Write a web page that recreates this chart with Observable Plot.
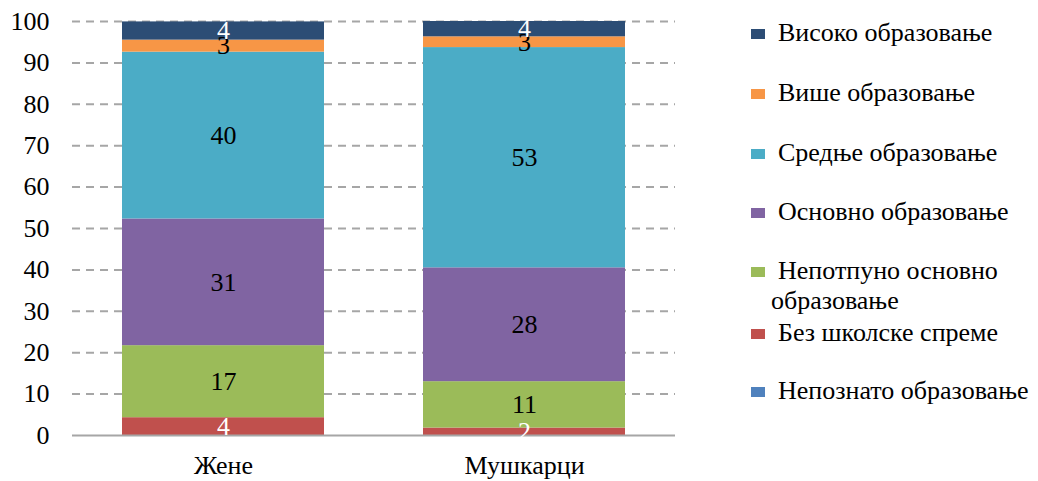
<!DOCTYPE html>
<html>
<head>
<meta charset="utf-8">
<script src="https://cdn.jsdelivr.net/npm/d3@7"></script>
<script src="https://cdn.jsdelivr.net/npm/@observablehq/plot@0.6"></script>
<style>
body { margin: 0; background: #fff; }
#wrap { position: relative; width: 1038px; height: 481px; overflow: hidden; }
#legend { position: absolute; left: 751px; top: 0; }
.item { position: absolute; white-space: nowrap; font-size: 26px; color: #000; }
.sw { position: absolute; width: 14px; height: 10px; left: 0; }
.lab { position: absolute; left: 27px; line-height: 30px; }
</style>
</head>
<body>
<div id="wrap"><div id="chart"></div><div id="legend"></div></div>
<script>
const groups = ["Жене", "Мушкарци"];
const levels = ["Непознато образовање", "Без школске спреме", "Непотпуно основно образовање", "Основно образовање", "Средње образовање", "Више образовање", "Високо образовање"];
const colors = ["#4f81bd", "#c0504d", "#9bbb59", "#8064a2", "#4bacc6", "#f79646", "#2c4d75"];
const zeneValues = [0, 4.3, 17.4, 30.6, 40.3, 2.9, 4.4];
const muskarciValues = [0, 1.8, 11.2, 27.5, 53.2, 2.6, 3.7];
const yTicks = [0, 10, 20, 30, 40, 50, 60, 70, 80, 90, 100];
const whiteLabels = ["Без школске спреме", "Високо образовање"];

const data = [];
levels.forEach((l, i) => {
  data.push({group: groups[0], level: l, value: zeneValues[i]});
  data.push({group: groups[1], level: l, value: muskarciValues[i]});
});

const font = "Liberation Serif";
const chart = Plot.plot({
  width: 1038,
  height: 481,
  marginLeft: 72,
  marginRight: 363,
  marginTop: 21,
  marginBottom: 46,
  style: {fontSize: "26px", color: "#000", background: "#fff", overflow: "visible"},
  x: {domain: groups, paddingInner: 0.33, paddingOuter: 0.165, label: null, tickSize: 0, tickPadding: 20},
  y: {domain: [0, 100], ticks: yTicks, label: null, tickSize: 0, tickPadding: 23},
  color: {domain: levels, range: colors},
  marks: [
    Plot.ruleY(yTicks.filter(d => d > 0), {stroke: "#a6a6a6", strokeWidth: 2, strokeDasharray: "8,6"}),
    Plot.barY(data, Plot.stackY({x: "group", y: "value", fill: "level", order: null})),
    Plot.ruleY([0], {stroke: "#a6a6a6", strokeWidth: 2}),
    Plot.text(data, Plot.stackY({x: "group", y: "value", order: null, text: d => d.value > 0 ? String(Math.round(d.value)) : "", fill: d => whiteLabels.includes(d.level) ? "white" : "black", fontSize: 26}))
  ]
});
chart.setAttribute("font-family", font);
chart.style.fontFamily = font;
d3.select(chart).selectAll("g, text").attr("font-family", font).style("font-family", font);
document.getElementById("chart").appendChild(chart);

const legend = document.getElementById("legend");
const legendOrder = levels.slice().reverse();
const legendColors = colors.slice().reverse();
const legendCenters = [33.5, 93.5, 153.5, 213, 272, 333.5, 392];
legendOrder.forEach((l, i) => {
  const it = document.createElement("div");
  it.className = "item";
  it.style.top = legendCenters[i] + "px";
  it.style.fontFamily = font;
  const sw = document.createElement("div");
  sw.className = "sw";
  sw.style.background = legendColors[i];
  sw.style.top = "-5px";
  it.appendChild(sw);
  const lab = document.createElement("div");
  lab.className = "lab";
  lab.style.top = "-16px";
  lab.style.fontFamily = font;
  if (l === "Непотпуно основно образовање") {
    lab.innerHTML = "Непотпуно основно<br><span style='margin-left:-7px'>образовање</span>";
  } else {
    lab.textContent = l;
  }
  it.appendChild(lab);
  legend.appendChild(it);
});
</script>
</body>
</html>
